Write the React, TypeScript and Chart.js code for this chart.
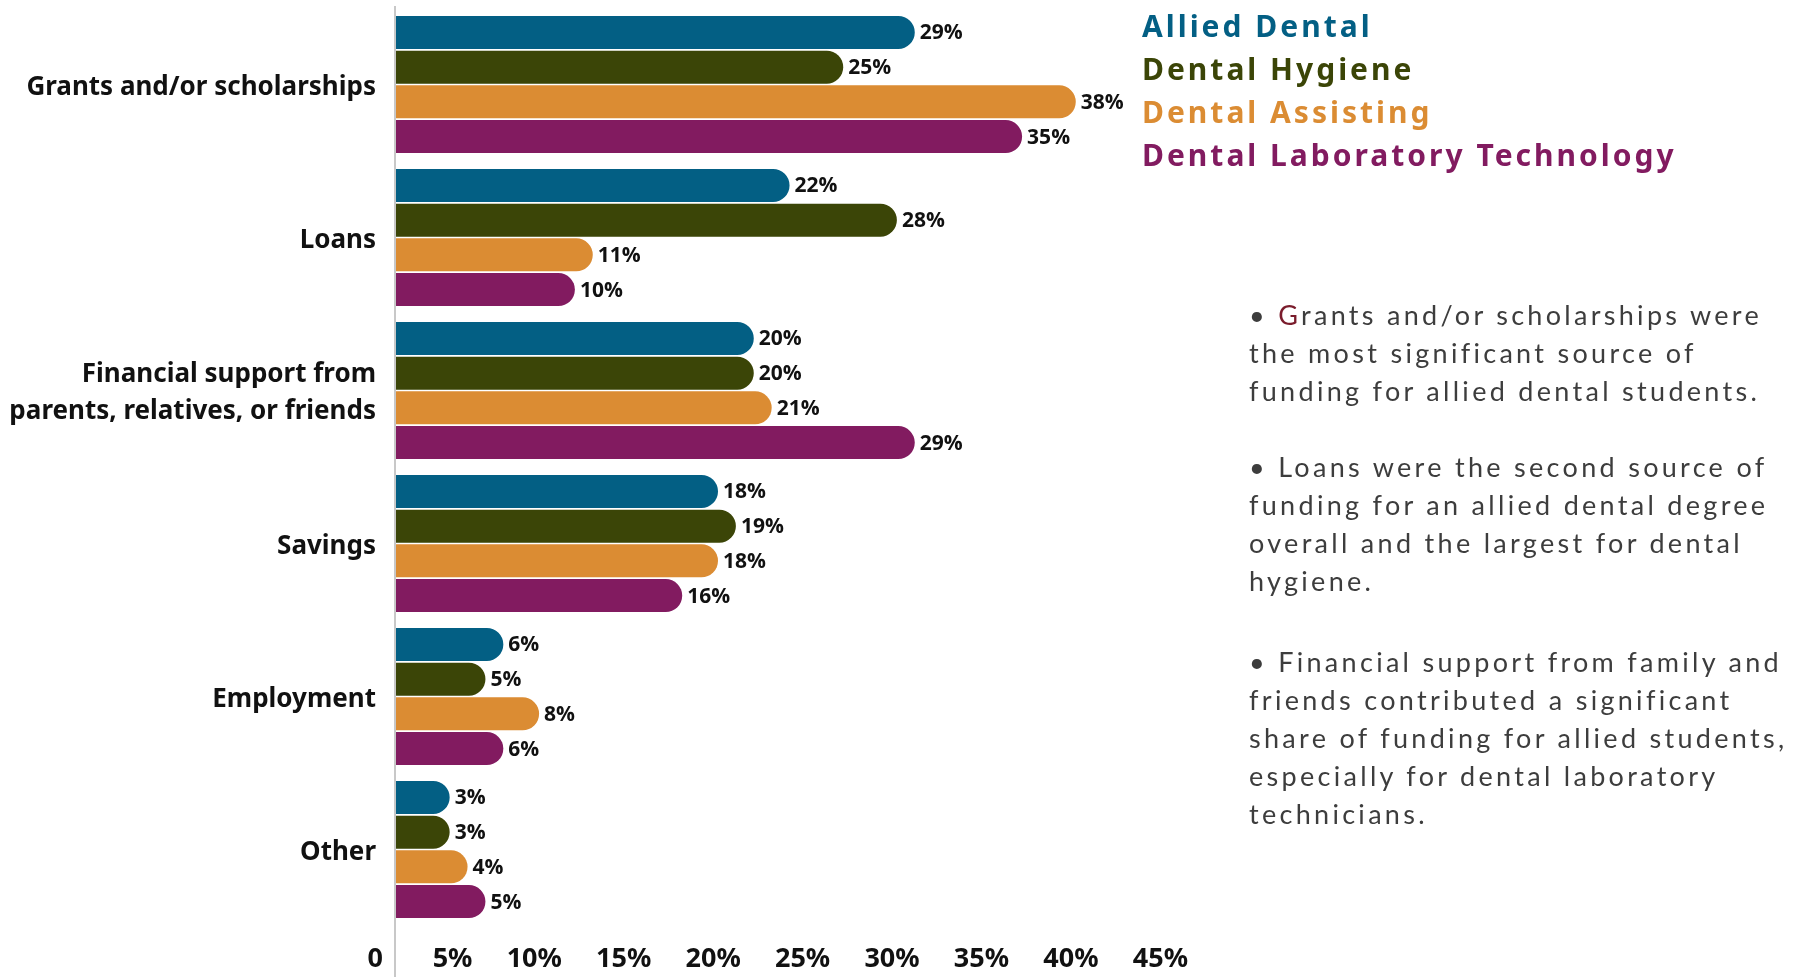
import React, { useEffect, useRef } from "react";
import { Chart, registerables } from "chart.js";

Chart.register(...registerables);

const categories: (string | string[])[] = [
  "Grants and/or scholarships",
  "Loans",
  ["Financial support from", "parents, relatives, or friends"],
  "Savings",
  "Employment",
  "Other",
];

const seriesNames = [
  "Allied Dental",
  "Dental Hygiene",
  "Dental Assisting",
  "Dental Laboratory Technology",
];
const seriesColors = ["#035F84", "#3B4507", "#DB8C33", "#821B60"];

const alliedDental = [29, 22, 20, 18, 6, 3];
const dentalHygiene = [25, 28, 20, 19, 5, 3];
const dentalAssisting = [38, 11, 21, 18, 8, 4];
const dentalLabTech = [35, 10, 29, 16, 6, 5];
const seriesValues = [alliedDental, dentalHygiene, dentalAssisting, dentalLabTech];

const xTicks = [0, 5, 10, 15, 20, 25, 30, 35, 40, 45];
const tickLabel = (v: number) => (v === 0 ? "0" : `${v}%`);

const W = 1803;
const H = 977;

const notes = [
  ["G", "rants and/or scholarships were", "the most significant source of", "funding for allied dental students."],
  ["", "Loans were the second source of", "funding for an allied dental degree", "overall and the largest for dental", "hygiene."],
  ["", "Financial support from family and", "friends contributed a significant", "share of funding for allied students,", "especially for dental laboratory", "technicians."],
];
const noteGaps = [38, 43, 0];

export default function App() {
  const canvasRef = useRef<HTMLCanvasElement | null>(null);

  useEffect(() => {
    document.body.style.margin = "0";
    document.body.style.overflow = "hidden";
    let chart: Chart | null = null;
    let cancelled = false;

    const axisLine = {
      id: "axisLine",
      beforeDatasetsDraw(c: any) {
        const { ctx, chartArea } = c;
        ctx.save();
        ctx.strokeStyle = "#c8c8c8";
        ctx.lineWidth = 2;
        ctx.beginPath();
        ctx.moveTo(chartArea.left - 1, chartArea.top - 2);
        ctx.lineTo(chartArea.left - 1, c.height);
        ctx.stroke();
        ctx.restore();
      },
    };

    const valueLabels = {
      id: "valueLabels",
      afterDatasetsDraw(c: any) {
        const ctx = c.ctx;
        ctx.save();
        ctx.font = 'bold 21px "Open Sans"';
        ctx.fillStyle = "#111";
        ctx.textAlign = "left";
        ctx.textBaseline = "middle";
        c.data.datasets.forEach((ds: any, i: number) => {
          const meta = c.getDatasetMeta(i);
          meta.data.forEach((bar: any, j: number) => {
            ctx.fillText(`${ds.data[j]}%`, bar.x + 5, bar.y + 1);
          });
        });
        ctx.restore();
      },
    };

    const build = () => {
      if (cancelled || !canvasRef.current) return;
      chart = new Chart(canvasRef.current, {
        type: "bar",
        data: {
          labels: categories as any,
          datasets: seriesNames.map((name, i) => ({
            label: name,
            data: seriesValues[i],
            backgroundColor: seriesColors[i],
            borderRadius: 100,
            borderSkipped: "start",
            categoryPercentage: 0.908,
            barPercentage: 0.95,
          })),
        },
        options: {
          indexAxis: "y",
          responsive: false,
          animation: false,
          devicePixelRatio: 1,
          layout: { padding: { top: 8, right: W - 1201, left: 0, bottom: 0 } },
          plugins: {
            legend: { display: false },
            tooltip: { enabled: false },
          },
          scales: {
            x: {
              min: 0,
              max: 45,
              afterBuildTicks: (scale: any) => {
                scale.ticks = xTicks.map((v) => ({ value: v }));
              },
              afterFit: (scale: any) => {
                scale.height = 51;
              },
              grid: { display: false, drawTicks: false },
              border: { display: false },
              ticks: {
                callback: (v: any) => tickLabel(Number(v)),
                align: "end",
                labelOffset: -13,
                padding: 17,
                color: "#111",
                font: { family: '"Noto Sans"', size: 27, weight: "bold" },
                autoSkip: false,
                maxRotation: 0,
              },
            },
            y: {
              afterFit: (scale: any) => {
                scale.width = 396;
                scale.paddingTop = 0;
                scale.paddingBottom = 0;
              },
              grid: { display: false, drawTicks: false },
              border: { display: false },
              ticks: {
                padding: 20,
                labelOffset: 3,
                color: "#111",
                font: { family: '"Noto Sans"', size: 26, weight: "bold", lineHeight: 1.42 },
              },
            },
          },
        },
        plugins: [axisLine, valueLabels],
      } as any);
    };

    const fonts = [
      'bold 26px "Noto Sans"',
      'bold 21px "Open Sans"',
      'bold 27px "Noto Sans"',
      'bold 30px "Noto Sans"',
      '400 27px "Lato"',
    ];
    Promise.all(fonts.map((f) => document.fonts.load(f)))
      .catch(() => null)
      .then(build);

    return () => {
      cancelled = true;
      if (chart) chart.destroy();
    };
  }, []);

  return (
    <div style={{ position: "relative", width: W, height: H, background: "#fff" }}>
      <canvas ref={canvasRef} width={W} height={H} style={{ display: "block", width: W, height: H }} />
      <div
        style={{
          position: "absolute",
          left: 1142,
          top: 4,
          fontFamily: '"Noto Sans"',
          fontWeight: 700,
          fontSize: 30,
          letterSpacing: 3,
          lineHeight: "43px",
          whiteSpace: "nowrap",
        }}
      >
        {seriesNames.map((n, i) => (
          <div key={n} style={{ color: seriesColors[i] }}>
            {n}
          </div>
        ))}
      </div>
      <div
        style={{
          position: "absolute",
          left: 1249,
          top: 296,
          fontFamily: '"Lato"',
          fontWeight: 400,
          fontSize: 27,
          letterSpacing: 3.3,
          lineHeight: "38px",
          color: "#3d3d3d",
          whiteSpace: "nowrap",
        }}
      >
        {notes.map((para, pi) => (
          <div key={pi} style={{ marginBottom: noteGaps[pi] }}>
            {para.slice(1).map((line, li) => (
              <div key={li}>
                {li === 0 ? (
                  <>
                    {"• "}
                    {para[0] ? <span style={{ color: "#7A1C2C" }}>{para[0]}</span> : null}
                    {line}
                  </>
                ) : (
                  line
                )}
              </div>
            ))}
          </div>
        ))}
      </div>
    </div>
  );
}
